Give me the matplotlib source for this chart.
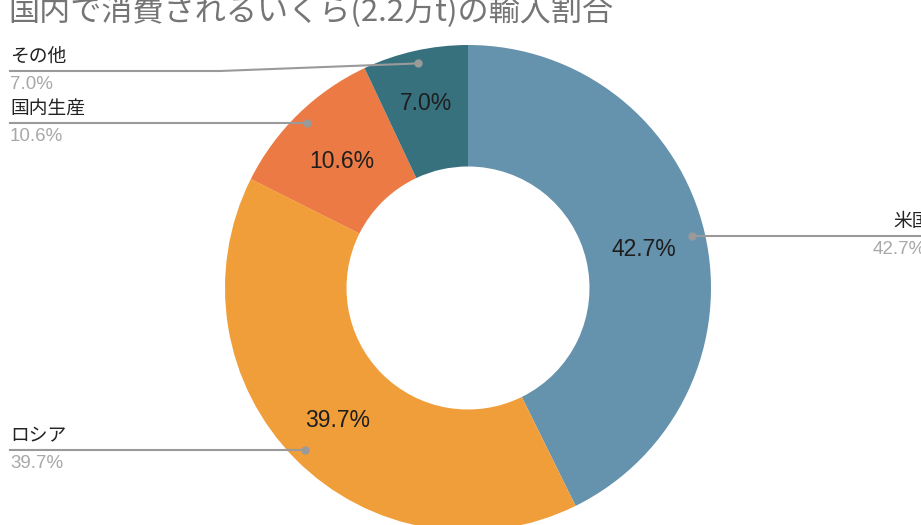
import numpy as np
import matplotlib
matplotlib.use("Agg")
import matplotlib.pyplot as plt

plt.rcParams['font.family'] = ['Noto Sans CJK JP', 'DejaVu Sans']

title = "国内で消費されるいくら(2.2万t)の輸入割合"
categories = ["米国", "ロシア", "国内生産", "その他"]
shares = [42.7, 39.7, 10.6, 7.0]
colors = ["#6592ac", "#f09e39", "#ec7a45", "#37717e"]

W, H = 921, 525
fig = plt.figure(figsize=(W / 100, H / 100), dpi=100)
ax = fig.add_axes([0, 0, 1, 1])
ax.set_xlim(0, W)
ax.set_ylim(0, H)
ax.set_aspect('equal')
ax.axis('off')

def py(y):
    return H - y

cx, cy, R = 468, py(288), 243
wedges, _, autotexts = ax.pie(
    shares, colors=colors, startangle=90, counterclock=False,
    radius=R, center=(cx, cy), frame=True,
    wedgeprops=dict(width=R * 0.5, linewidth=0),
    autopct='%1.1f%%', pctdistance=0.75,
    textprops=dict(fontsize=16.5, color='#1e1e1e', family=['Liberation Sans', 'DejaVu Sans']))
ax.set_xlim(0, W)
ax.set_ylim(0, H)
ax.axis('off')

# radial placement of inner value labels (fraction of radius)
pct_r = [0.745, 0.757, 0.745, 0.79]
for w, t, rf in zip(wedges, autotexts, pct_r):
    ang = np.deg2rad((w.theta1 + w.theta2) / 2)
    t.set_position((cx + rf * R * np.cos(ang), cy + rf * R * np.sin(ang) - 3))

line_col = '#9a9a9a'
lab_font = 13.5
# label line y (pixels), None = use dot y
line_y = {"米国": None, "ロシア": None, "国内生産": None, "その他": 71}
for w, name, val in zip(wedges, categories, shares):
    ang = np.deg2rad((w.theta1 + w.theta2) / 2)
    dx, dy = cx + 0.947 * R * np.cos(ang), cy + 0.947 * R * np.sin(ang)
    ax.plot(dx, dy, 'o', color=line_col, ms=5, zorder=5)
    ly = dy if line_y[name] is None else py(line_y[name])
    if np.cos(ang) > 0:
        ax.plot([dx, W], [dy, ly], color=line_col, lw=1.5, zorder=4)
        ax.text(W - 28, ly + 4, name, ha='left', va='bottom', fontsize=lab_font, color='#222222')
        ax.text(W - 48, ly - 5, f"{val:.1f}%", ha='left', va='top', fontsize=lab_font,
                color='#a8a8a8', family=['Liberation Sans', 'DejaVu Sans'])
    else:
        if line_y[name] is None:
            ax.plot([10, dx], [ly, dy], color=line_col, lw=1.5, zorder=4)
        else:
            ax.plot([10, 220, dx], [ly, ly, dy], color=line_col, lw=1.5, zorder=4)
        ax.text(10, ly + 4, name, ha='left', va='bottom', fontsize=lab_font, color='#222222')
        ax.text(10, ly - 5, f"{val:.1f}%", ha='left', va='top', fontsize=lab_font,
                color='#a8a8a8', family=['Liberation Sans', 'DejaVu Sans'])

fig.text(8 / W, 1 - 21 / H, title, ha='left', va='baseline', fontsize=22.4, color='#757575')

fig.savefig("out.png", dpi=100)
